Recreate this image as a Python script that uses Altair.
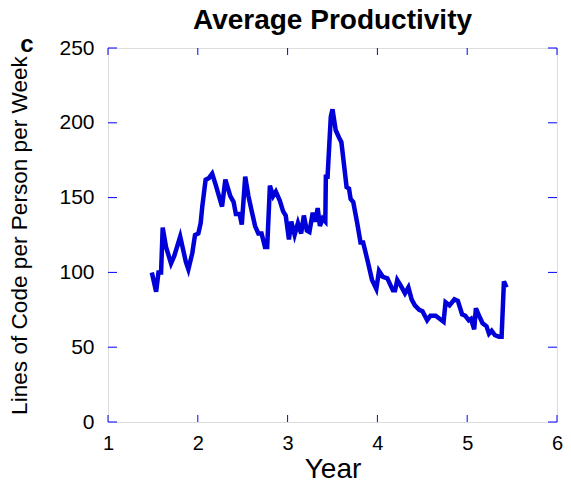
import altair as alt
import pandas as pd

years = [1.488, 1.536, 1.562, 1.591, 1.609, 1.646, 1.702, 1.738, 1.804, 1.867,
         1.895, 1.939, 1.969, 2.006, 2.032, 2.050, 2.087, 2.123, 2.160, 2.197,
         2.270, 2.307, 2.362, 2.399, 2.424, 2.465, 2.490, 2.528, 2.564, 2.600,
         2.638, 2.674, 2.710, 2.748, 2.773, 2.803, 2.839, 2.869, 2.913, 2.949,
         2.979, 3.015, 3.041, 3.078, 3.115, 3.151, 3.181, 3.214, 3.243, 3.280,
         3.309, 3.335, 3.360, 3.390, 3.420, 3.426, 3.445, 3.481, 3.500, 3.536,
         3.574, 3.599, 3.657, 3.684, 3.702, 3.731, 3.775, 3.812, 3.841, 3.890,
         3.940, 3.988, 4.018, 4.062, 4.111, 4.172, 4.197, 4.221, 4.252, 4.307,
         4.345, 4.381, 4.417, 4.466, 4.502, 4.554, 4.590, 4.649, 4.693, 4.737,
         4.759, 4.803, 4.858, 4.896, 4.943, 4.979, 5.017, 5.042, 5.078, 5.097,
         5.133, 5.171, 5.215, 5.243, 5.273, 5.309, 5.353, 5.383, 5.409, 5.438]
values = [100, 87, 100, 100, 130, 117, 106, 111, 124, 107,
          102, 113, 125, 126, 133, 144, 162, 163, 166, 159,
          144, 162, 151, 147, 139, 139, 132, 164, 151, 141,
          131, 126, 126, 117, 117, 158, 151, 154, 148, 141,
          138, 122, 134, 125, 133, 126, 138, 128, 127, 140,
          134, 143, 131, 136, 134, 164, 164, 204, 209, 195,
          190, 187, 157, 156, 149, 147, 133, 120, 120, 108,
          95, 89, 101, 97, 96, 88, 88, 95, 92, 86,
          90, 82, 78, 75, 74, 68, 71, 71, 69, 67,
          80, 78, 82, 81, 72, 71, 68, 69, 62, 76,
          71, 66, 64, 59, 61, 58, 57, 57, 94, 90]

x_ticks = [1, 2, 3, 4, 5, 6]
y_ticks = [0, 50, 100, 150, 200, 250]

W, H = 449, 374
AX = "#0000ff"
FONT = "Liberation Sans"
X_TITLE = "Year"
Y_TITLE = "Lines of Code per Person per Week"

df = pd.DataFrame({"year": years, "loc": values})
xt = pd.DataFrame({"year": x_ticks})
yt = pd.DataFrame({"loc": y_ticks})

xscale = alt.Scale(domain=[1, 6], nice=False, zero=False)
yscale = alt.Scale(domain=[0, 250], nice=False)

xaxis = alt.Axis(values=x_ticks, format="d", title=X_TITLE, domain=False, ticks=False,
                 grid=False, labelFontSize=20, labelFont=FONT, labelColor="black",
                 labelPadding=11, titleFontSize=28, titleFont=FONT,
                 titleFontWeight="normal", titleColor="black", titlePadding=2,
                 labelFlush=False)
yaxis = alt.Axis(values=y_ticks, format="d", title=Y_TITLE, domain=False, ticks=False,
                 grid=False, labelFontSize=21, labelFont=FONT, labelColor="black",
                 labelPadding=14, titleFontSize=22.6, titleFont=FONT,
                 titleFontWeight="normal", titleColor="black", titlePadding=27,
                 labelFlush=False)

line = alt.Chart(df).mark_line(color="#0000d8", strokeWidth=4.5).encode(
    x=alt.X("year:Q", scale=xscale, axis=xaxis, title=X_TITLE),
    y=alt.Y("loc:Q", scale=yscale, axis=yaxis, title=Y_TITLE),
)

bot_ticks = alt.Chart(xt).mark_rule(color=AX, strokeWidth=1).encode(
    x=alt.X("year:Q", scale=xscale, title=X_TITLE), y=alt.value(H), y2=alt.value(H - 7))
top_ticks = alt.Chart(xt).mark_rule(color=AX, strokeWidth=1).encode(
    x=alt.X("year:Q", scale=xscale, title=X_TITLE), y=alt.value(0), y2=alt.value(7))
left_ticks = alt.Chart(yt).mark_rule(color=AX, strokeWidth=1).encode(
    y=alt.Y("loc:Q", scale=yscale, title=Y_TITLE), x=alt.value(0), x2=alt.value(9))
right_ticks = alt.Chart(yt).mark_rule(color=AX, strokeWidth=1).encode(
    y=alt.Y("loc:Q", scale=yscale, title=Y_TITLE), x=alt.value(W), x2=alt.value(W - 9))

label_c = alt.Chart(pd.DataFrame({"t": ["c"]})).mark_text(
    fontSize=24, fontWeight="bold", font=FONT, color="black",
    align="center", baseline="middle").encode(
    text="t:N", x=alt.value(-81), y=alt.value(-3))

chart = alt.layer(line, bot_ticks, top_ticks, left_ticks, right_ticks, label_c).properties(
    width=W, height=H,
    autosize=alt.AutoSizeParams(type="none"),
    padding={"left": 100, "top": 40, "right": 6, "bottom": 60},
    title=alt.TitleParams("Average Productivity", fontSize=28, fontWeight="bold", font=FONT,
                          color="black", anchor="middle", frame="group", offset=-2),
).configure_view(stroke=AX, strokeWidth=1).configure(background="white")

chart.save("out.html", embed_options={"renderer": "svg", "actions": False})
